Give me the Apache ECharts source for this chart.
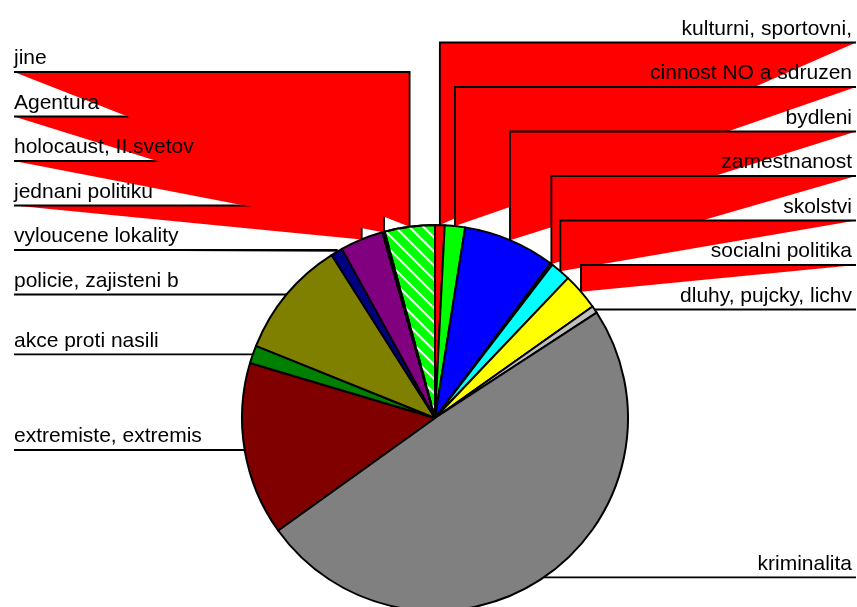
<!DOCTYPE html>
<html>
<head>
<meta charset="utf-8">
<script src="https://cdn.jsdelivr.net/npm/echarts@6/dist/echarts.min.js"></script>
<style>
html,body{margin:0;padding:0;background:#fff;}
#chart{width:857px;height:607px;}
</style>
</head>
<body>
<div id="chart"></div>
<script>
// ---- data (clockwise from 12 o'clock) ----
const categories = [
  'kulturni, sportovni,', 'cinnost NO a sdruzen', 'bydleni', 'zamestnanost',
  'skolstvi', 'socialni politika', 'dluhy, pujcky, lichv', 'kriminalita',
  'extremiste, extremis', 'akce proti nasili', 'policie, zajisteni b',
  'vyloucene lokality', 'jednani politiku', 'holocaust, II.svetov', 'Agentura', 'jine'
];
const values = [0.8, 1.7, 7.7, 0.2, 1.7, 3.1, 0.6, 49.3, 14.5, 1.5, 9.9, 1.0, 3.6, 0.1, 0.1, 4.2];
const colors = ['#FF0000', '#00FF00', '#0000FF', '#800080', '#00FFFF', '#FFFF00', '#C0C0C0', '#808080',
                '#800000', '#008000', '#808000', '#000080', '#800080', '#008080', '#C0C0C0', '#00FF00'];
const hatched = [false, false, false, false, false, false, false, false,
                 false, false, false, false, false, false, false, true];

// ---- layout ----
const CX = 435, CY = 418, R = 193;
const LEFT_X = 14, RIGHT_X = 856, TEXT_RIGHT_X = 852, GAP = 44.5;

// label rows: a label sits at its slice's rim height unless it would collide
const total = values.reduce((a, b) => a + b, 0);
let acc = 0;
const mids = values.map(v => { const m = (acc + v / 2) / total * 2 * Math.PI; acc += v; return m; });
const side = mids.map(a => (Math.sin(a) >= 0 ? 'right' : 'left'));
const rimY = mids.map(a => CY - R * Math.cos(a));
const rowY = rimY.slice();
['left', 'right'].forEach(s => {
  const idx = rimY.map((y, i) => i).filter(i => side[i] === s).sort((a, b) => rimY[b] - rimY[a]);
  let prev = Infinity;
  idx.forEach(i => { rowY[i] = Math.min(rimY[i], prev - GAP); prev = rowY[i]; });
});

const chart = echarts.init(document.getElementById('chart'), null, { renderer: 'canvas' });
chart.setOption({
  animation: false,
  backgroundColor: '#ffffff',
  series: [{
    type: 'pie',
    center: [CX, CY],
    radius: R,
    startAngle: 90,
    clockwise: true,
    avoidLabelOverlap: false,
    data: categories.map((c, i) => ({
      name: c,
      value: values[i],
      itemStyle: hatched[i] ? {
        color: colors[i],
        decal: { symbol: 'rect', symbolSize: 1, color: '#ffffff', dashArrayX: [[1, 0]], dashArrayY: [1.5, 8], rotation: Math.PI / 4 }
      } : { color: colors[i] }
    })),
    itemStyle: { borderColor: '#000000', borderWidth: 2 },
    label: {
      show: true,
      formatter: '{b}',
      color: '#000000',
      fontFamily: 'Liberation Sans, Arial, sans-serif',
      fontSize: 21,
      width: 320,
      overflow: 'none'
    },
    labelLine: {
      show: true,
      length: 10,
      length2: 10,
      lineStyle: { color: '#000000', width: 1.8 }
    },
    labelLayout: function (p) {
      const i = p.dataIndex;
      const p0 = p.labelLinePoints[0];
      const y = rowY[i];
      const left = side[i] === 'left';
      const lx = left ? LEFT_X : RIGHT_X;
      return {
        x: left ? LEFT_X : TEXT_RIGHT_X,
        y: y - 3,
        align: left ? 'left' : 'right',
        verticalAlign: 'bottom',
        labelLinePoints: [[p0[0], p0[1]], [p0[0], y], [lx, y]]
      };
    },
    emphasis: { disabled: true }
  }]
});

// callout fill: the label guide polylines are filled red, as in the source image
const seriesData = chart.getModel().getSeriesByIndex(0).getData();
seriesData.each(function (i) {
  const el = seriesData.getItemGraphicEl(i);
  const gl = el && el.getTextGuideLine && el.getTextGuideLine();
  if (gl) { gl.setStyle('fill', '#FF0000'); gl.z2 = -1; gl.dirty(); }
});
chart.getZr().refresh();
</script>
</body>
</html>
